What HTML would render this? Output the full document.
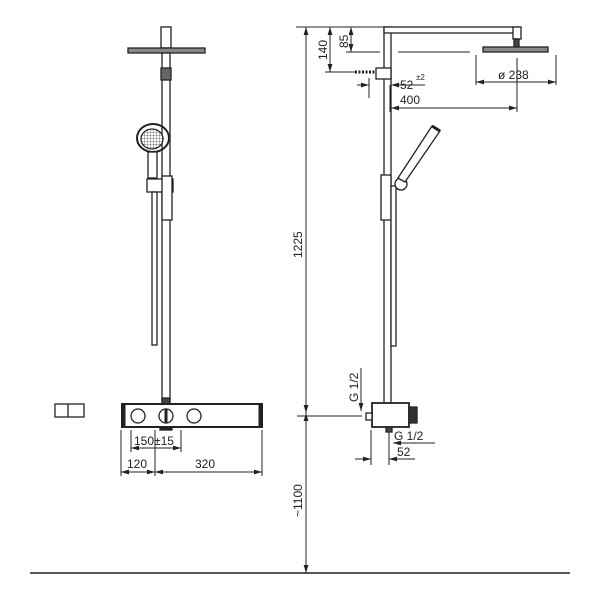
<!DOCTYPE html>
<html><head><style>body{margin:0;background:#fff}svg{display:block}text{font-family:"Liberation Sans",sans-serif;fill:#222}</style></head>
<body>
<svg width="600" height="600" viewBox="0 0 600 600" xmlns="http://www.w3.org/2000/svg">
<defs>
<marker id="a" viewBox="0 0 10 6" refX="10" refY="3" markerWidth="8" markerHeight="5" orient="auto-start-reverse"><path d="M0,0 L10,3 L0,6z" fill="#222"/></marker>
<pattern id="g" width="3" height="3" patternUnits="userSpaceOnUse"><rect width="3" height="3" fill="#fff"/><path d="M0,0H3M0,0V3" stroke="#555" stroke-width="0.8"/></pattern>
</defs>
<g stroke="#222" fill="none" stroke-width="1.3">
<!-- LEFT VIEW -->
<rect x="161" y="27" width="10" height="21" fill="#fff"/>
<rect x="128" y="48" width="77" height="5" fill="#888"/>
<rect x="162" y="53" width="8" height="348" fill="#fff"/>
<rect x="161" y="68" width="10" height="12" fill="#666"/>
<ellipse cx="153" cy="138" rx="16" ry="14" stroke-width="2"/>
<ellipse cx="152" cy="139" rx="11" ry="10" fill="url(#g)"/>
<rect x="148" y="152" width="9" height="26" fill="#fff"/>
<rect x="147" y="179" width="26" height="13" fill="#fff"/>
<rect x="162" y="176" width="10" height="44" fill="#fff"/>
<rect x="152" y="192" width="5" height="153" fill="#fff"/>
<rect x="162" y="398" width="8" height="6" fill="#444"/>
<rect x="122" y="404" width="140" height="23" fill="#fff" stroke-width="2"/>
<line x1="124" y1="404" x2="124" y2="427" stroke-width="3"/>
<line x1="260" y1="404" x2="260" y2="427" stroke-width="3"/>
<circle cx="138" cy="416" r="7"/><circle cx="166" cy="416" r="7"/><circle cx="194" cy="416" r="7"/>
<line x1="166" y1="409" x2="166" y2="423" stroke-width="3"/>
<rect x="160" y="427" width="12" height="3" fill="#222"/>
<rect x="55" y="404" width="29" height="13"/><line x1="68" y1="404" x2="68" y2="417"/>
<g stroke-width="1">
<line x1="131" y1="430" x2="131" y2="452"/><line x1="181" y1="430" x2="181" y2="452"/>
<line x1="131" y1="448" x2="181" y2="448" marker-start="url(#a)" marker-end="url(#a)"/>
<line x1="155" y1="430" x2="155" y2="476"/>
<line x1="121" y1="430" x2="121" y2="476"/><line x1="262" y1="430" x2="262" y2="476"/>
<line x1="121" y1="472" x2="155" y2="472" marker-start="url(#a)" marker-end="url(#a)"/>
<line x1="155" y1="472" x2="262" y2="472" marker-start="url(#a)" marker-end="url(#a)"/>
</g>
<!-- RIGHT VIEW -->
<rect x="384" y="27" width="7" height="386" fill="#fff"/>
<rect x="384" y="27" width="135" height="6" fill="#fff"/>
<rect x="513" y="27" width="8" height="12" fill="#fff"/>
<rect x="514" y="39" width="5" height="8" fill="#444"/>
<rect x="483" y="47" width="65" height="5" fill="#888"/>
<rect x="376" y="68" width="15" height="11" fill="#fff"/>
<line x1="355" y1="72" x2="376" y2="72" stroke-width="3" stroke-dasharray="2 1.5"/>
<rect x="381" y="175" width="10" height="45" fill="#fff"/>
<rect x="391" y="186" width="5" height="160" fill="#fff"/>
<circle cx="401" cy="184" r="6" fill="#fff"/>
<path d="M398,178 L432,126 L440,131 L405,182z" fill="#fff"/>
<line x1="432" y1="126" x2="440" y2="131" stroke-width="3"/>
<rect x="372" y="403" width="37" height="24" fill="#fff" stroke-width="1.8"/>
<rect x="409" y="407" width="8" height="16" fill="#333"/>
<rect x="366" y="413" width="6" height="7" fill="#fff"/>
<rect x="386" y="427" width="6" height="5" fill="#444"/>
<g stroke-width="1">
<line x1="296" y1="27" x2="385" y2="27"/>
<line x1="306" y1="27" x2="306" y2="413" marker-start="url(#a)" marker-end="url(#a)"/>
<line x1="306" y1="413" x2="306" y2="573" marker-start="url(#a)" marker-end="url(#a)"/>
<line x1="297" y1="416" x2="362" y2="416"/>
<line x1="330" y1="27" x2="330" y2="72" marker-start="url(#a)" marker-end="url(#a)"/>
<line x1="351" y1="27" x2="351" y2="52" marker-start="url(#a)" marker-end="url(#a)"/>
<line x1="325" y1="72" x2="356" y2="72"/>
<line x1="346" y1="52" x2="380" y2="52"/><line x1="398" y1="52" x2="470" y2="52"/>
<line x1="369" y1="78" x2="369" y2="98"/>
<line x1="357" y1="85" x2="369" y2="85" marker-end="url(#a)"/>
<line x1="391" y1="85" x2="425" y2="85" marker-start="url(#a)"/>
<line x1="390" y1="85" x2="390" y2="112"/>
<line x1="391" y1="108" x2="517" y2="108" marker-start="url(#a)" marker-end="url(#a)"/>
<line x1="517" y1="58" x2="517" y2="112"/>
<line x1="476" y1="55" x2="476" y2="85"/><line x1="556" y1="55" x2="556" y2="85"/>
<line x1="476" y1="82" x2="556" y2="82" marker-start="url(#a)" marker-end="url(#a)"/>
<line x1="361" y1="368" x2="361" y2="411" marker-end="url(#a)"/>
<line x1="435" y1="443" x2="393" y2="443" marker-end="url(#a)"/>
<line x1="371" y1="430" x2="371" y2="465"/><line x1="389" y1="432" x2="389" y2="465"/>
<line x1="355" y1="459" x2="371" y2="459" marker-end="url(#a)"/>
<line x1="415" y1="459" x2="389" y2="459" marker-end="url(#a)"/>
</g>
<line x1="30" y1="573" x2="570" y2="573" stroke-width="1.5"/>
</g>
<g font-size="12">
<text x="134" y="445">150±15</text>
<text x="127" y="468">120</text>
<text x="195" y="468">320</text>
<text x="400" y="104">400</text>
<text x="498" y="79">ø 238</text>
<text x="400" y="89">52</text><text x="416" y="80" font-size="8">±2</text>
<text x="394" y="440">G 1/2</text>
<text x="397" y="456">52</text>
<text transform="translate(302,258) rotate(-90)">1225</text>
<text transform="translate(302,517) rotate(-90)">~1100</text>
<text transform="translate(327,60) rotate(-90)">140</text>
<text transform="translate(348,48) rotate(-90)">85</text>
<text transform="translate(358,402) rotate(-90)">G 1/2</text>
</g>
</svg>
</body></html>
